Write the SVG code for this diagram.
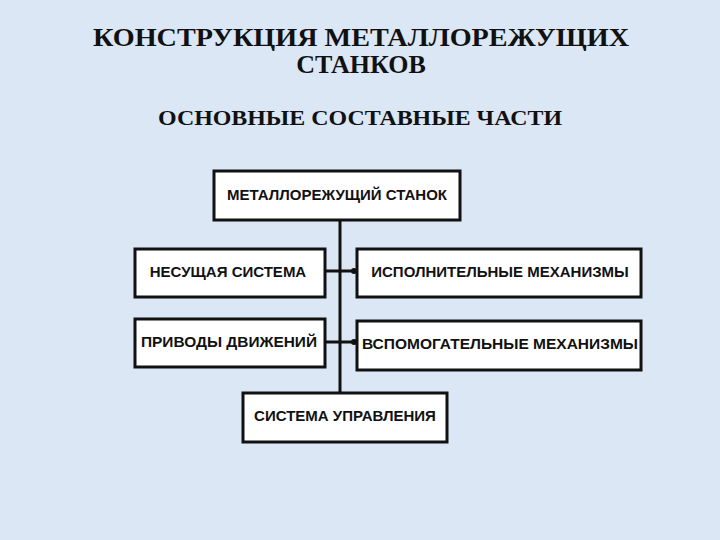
<svg xmlns="http://www.w3.org/2000/svg" width="720" height="540" viewBox="0 0 720 540">
<style>
.t{font-family:"Liberation Serif",serif;font-weight:bold;fill:#111;text-anchor:middle}
.b rect{fill:#fff;stroke:#111;stroke-width:3}
.b text{font-family:"Liberation Sans",Arial,sans-serif;font-weight:bold;font-size:15px;fill:#111;text-anchor:middle}
.c line{stroke:#111;stroke-width:3}
.c circle{fill:#111}
</style>
<rect width="720" height="540" fill="#dbe7f4"/>
<text class="t" x="361" y="46" font-size="26" textLength="536" lengthAdjust="spacingAndGlyphs">КОНСТРУКЦИЯ МЕТАЛЛОРЕЖУЩИХ</text>
<text class="t" x="361" y="73" font-size="26">СТАНКОВ</text>
<text class="t" x="360" y="125" font-size="20" textLength="404" lengthAdjust="spacingAndGlyphs">ОСНОВНЫЕ СОСТАВНЫЕ ЧАСТИ</text>
<g class="c" id="connectors">
<line x1="340" y1="220" x2="340" y2="396"/>
<line x1="322" y1="271" x2="354" y2="271"/>
<line x1="322" y1="342" x2="354" y2="342"/>
<circle cx="322" cy="271" r="3"/><circle cx="354" cy="271" r="3"/>
<circle cx="322" cy="342" r="3"/><circle cx="354" cy="342" r="3"/>
<circle cx="340" cy="396" r="3"/>
</g>
<g class="b" id="n1"><rect x="214" y="171" width="246" height="49"/><text x="337" y="200">МЕТАЛЛОРЕЖУЩИЙ СТАНОК</text></g>
<g class="b" id="n2"><rect x="135" y="249" width="190" height="48"/><text x="228" y="277">НЕСУЩАЯ СИСТЕМА</text></g>
<g class="b" id="n3"><rect x="357" y="249" width="284" height="48"/><text x="500" y="277">ИСПОЛНИТЕЛЬНЫЕ МЕХАНИЗМЫ</text></g>
<g class="b" id="n4"><rect x="135" y="319" width="190" height="48"/><text x="229" y="347" textLength="176" lengthAdjust="spacingAndGlyphs">ПРИВОДЫ ДВИЖЕНИЙ</text></g>
<g class="b" id="n5"><rect x="357" y="321" width="284" height="49"/><text x="500" y="349" textLength="276" lengthAdjust="spacingAndGlyphs">ВСПОМОГАТЕЛЬНЫЕ МЕХАНИЗМЫ</text></g>
<g class="b" id="n6"><rect x="243" y="393" width="204" height="49"/><text x="345" y="421">СИСТЕМА УПРАВЛЕНИЯ</text></g>
</svg>
